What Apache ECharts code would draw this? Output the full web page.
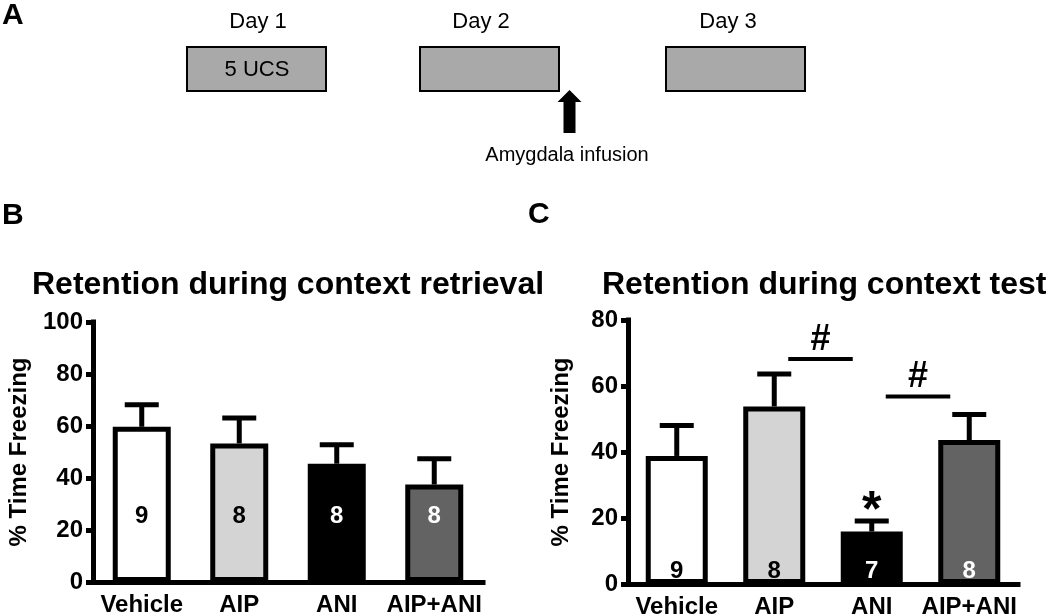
<!DOCTYPE html>
<html>
<head>
<meta charset="utf-8">
<script src="https://cdn.jsdelivr.net/npm/echarts@6/dist/echarts.min.js"></script>
<style>html,body{margin:0;padding:0;background:#fff;}#main{width:1050px;height:614px;}</style>
</head>
<body>
<div id="main"></div>
<script>
// ---- data ----
const categories = ['Vehicle', 'AIP', 'ANI', 'AIP+ANI'];
const barColors = ['#ffffff', '#d4d4d4', '#000000', '#636363'];
const nLabelColors = ['#000000', '#000000', '#ffffff', '#ffffff'];

const retrievalMean = [59.7, 53.3, 45.5, 37.5];
const retrievalSem = [8.5, 9.8, 7.3, 9.9];
const retrievalN = [9, 8, 8, 8];

const testMean = [38.8, 53.8, 15.9, 43.6];
const testSem = [9.2, 9.8, 3.2, 7.8];
const testN = [9, 8, 7, 8];

const retrievalTicks = [0, 20, 40, 60, 80, 100];
const testTicks = [0, 20, 40, 60, 80];

// significance annotations (panel C)
const sigFrom = ['AIP', 'ANI'];
const sigTo = ['ANI', 'AIP+ANI'];
const sigLevel = [68.2, 56.8];
const sigText = ['#', '#'];
const starCategory = ['ANI'];
const starText = ['*'];

// panel A timeline
const dayLabels = ['Day 1', 'Day 2', 'Day 3'];
const dayBoxText = ['5 UCS', '', ''];
const infusionLabel = 'Amygdala infusion';
const panelLetters = ['A', 'B', 'C'];
const titles = ['Retention during context retrieval', 'Retention during context test'];
const yName = '% Time Freezing';

const FONT = '"Liberation Sans", Arial, Helvetica, sans-serif';

const chart = echarts.init(document.getElementById('main'), null, {renderer: 'canvas'});

function barData(means) {
  return means.map((v, i) => ({
    value: v,
    itemStyle: {color: barColors[i]},
    label: {color: nLabelColors[i]}
  }));
}
function errData(means, sems) {
  return means.map((v, i) => [i, v, sems[i]]);
}
function errRender(params, api) {
  const x = api.value(0), m = api.value(1), e = api.value(2);
  const b = api.coord([x, m]);
  const t = api.coord([x, m + e]);
  const half = 17;
  return {
    type: 'group',
    children: [
      {type: 'line', shape: {x1: b[0], y1: b[1], x2: t[0], y2: t[1]}, style: {stroke: '#000', lineWidth: 5}},
      {type: 'line', shape: {x1: t[0] - half, y1: t[1], x2: t[0] + half, y2: t[1]}, style: {stroke: '#000', lineWidth: 5}}
    ]
  };
}
function sigRender(params, api) {
  const a = api.coord([api.value(0), api.value(2)]);
  const b = api.coord([api.value(1), api.value(2)]);
  const x1 = a[0] + 14, x2 = b[0] - 19;
  return {
    type: 'group',
    children: [
      {type: 'line', shape: {x1: x1, y1: a[1], x2: x2, y2: a[1]}, style: {stroke: '#000', lineWidth: 4}},
      {type: 'text', x: (x1 + x2) / 2, y: a[1] - 1,
        style: {text: sigText[params.dataIndex], fill: '#000', font: 'bold 36px ' + FONT, align: 'center', verticalAlign: 'bottom'}}
    ]
  };
}
function starRender(params, api) {
  const idx = api.value(0);
  const top = api.coord([idx, testMean[idx] + testSem[idx]]);
  return {
    type: 'text', x: top[0], y: top[1] + 16,
    style: {text: starText[params.dataIndex], fill: '#000', font: 'bold 50px ' + FONT, align: 'center', verticalAlign: 'bottom'}
  };
}

function xAxisCfg(gridIndex) {
  return {
    type: 'category', gridIndex: gridIndex, data: categories,
    axisLine: {lineStyle: {color: '#000', width: 5, cap: 'square'}},
    axisTick: {alignWithLabel: true, length: 7, lineStyle: {color: '#000', width: 5}},
    axisLabel: {interval: 0, color: '#000', fontWeight: 'bold', fontSize: 24, fontFamily: FONT, margin: 11}
  };
}
function yAxisCfg(gridIndex, max, nameGap) {
  return {
    type: 'value', gridIndex: gridIndex, min: 0, max: max, interval: 20,
    name: yName, nameLocation: 'middle', nameGap: nameGap,
    nameTextStyle: {color: '#000', fontWeight: 'bold', fontSize: 24, fontFamily: FONT},
    axisLine: {show: true, lineStyle: {color: '#000', width: 5, cap: 'square'}},
    axisTick: {show: true, length: 7, lineStyle: {color: '#000', width: 5}},
    axisLabel: {color: '#000', fontWeight: 'bold', fontSize: 24, fontFamily: FONT, margin: 10},
    splitLine: {show: false}
  };
}

const graphics = [];
// panel letters
[[2, 16], [2, 216], [528, 215]].forEach((p, i) => {
  graphics.push({type: 'text', x: p[0], y: p[1],
    style: {text: panelLetters[i], fill: '#000', font: 'bold 30px ' + FONT, align: 'left', verticalAlign: 'middle'}});
});
// panel A boxes
const boxX = [187, 420, 666];
const dayX = [258, 481, 728];
dayLabels.forEach((d, i) => {
  graphics.push({type: 'text', x: dayX[i], y: 22,
    style: {text: d, fill: '#000', font: '22px ' + FONT, align: 'center', verticalAlign: 'middle'}});
  graphics.push({type: 'rect', shape: {x: boxX[i], y: 47, width: 139, height: 44},
    style: {fill: '#a9a9a9', stroke: '#000', lineWidth: 2}});
  if (dayBoxText[i]) {
    graphics.push({type: 'text', x: boxX[i] + 70, y: 70,
      style: {text: dayBoxText[i], fill: '#000', font: '22px ' + FONT, align: 'center', verticalAlign: 'middle'}});
  }
});
graphics.push({type: 'polygon', shape: {points: [[569.5, 90], [581.5, 102], [575.5, 102], [575.5, 133], [563.5, 133], [563.5, 102], [557.5, 102]]},
  style: {fill: '#000'}});
graphics.push({type: 'text', x: 567, y: 155,
  style: {text: infusionLabel, fill: '#000', font: '20px ' + FONT, align: 'center', verticalAlign: 'middle'}});

const option = {
  backgroundColor: '#fff',
  animation: false,
  title: [
    {text: titles[0], left: 32, top: 269, padding: 0, textStyle: {color: '#000', fontWeight: 'bold', fontSize: 32, fontFamily: FONT}},
    {text: titles[1], left: 602, top: 269, padding: 0, textStyle: {color: '#000', fontWeight: 'bold', fontSize: 32, fontFamily: FONT}}
  ],
  grid: [
    {left: 93, top: 322, width: 390, height: 260, containLabel: false, outerBoundsMode: 'none'},
    {left: 628, top: 320, width: 390, height: 264, containLabel: false, outerBoundsMode: 'none'}
  ],
  xAxis: [xAxisCfg(0), xAxisCfg(1)],
  yAxis: [yAxisCfg(0, 100, 62), yAxisCfg(1, 80, 55)],
  graphic: graphics,
  series: [
    {type: 'custom', xAxisIndex: 0, yAxisIndex: 0, renderItem: errRender, data: errData(retrievalMean, retrievalSem), z: 1, silent: true},
    {type: 'bar', xAxisIndex: 0, yAxisIndex: 0, barWidth: 58, data: barData(retrievalMean), z: 2,
      itemStyle: {borderColor: '#000', borderWidth: 5},
      label: {show: true, position: 'insideBottom', distance: 54, fontWeight: 'bold', fontSize: 24, fontFamily: FONT,
        formatter: p => String(retrievalN[p.dataIndex])}},
    {type: 'custom', xAxisIndex: 1, yAxisIndex: 1, renderItem: errRender, data: errData(testMean, testSem), z: 1, silent: true},
    {type: 'bar', xAxisIndex: 1, yAxisIndex: 1, barWidth: 62, data: barData(testMean), z: 2,
      itemStyle: {borderColor: '#000', borderWidth: 5},
      label: {show: true, position: 'insideBottom', distance: 1, fontWeight: 'bold', fontSize: 24, fontFamily: FONT,
        formatter: p => String(testN[p.dataIndex])}},
    {type: 'custom', xAxisIndex: 1, yAxisIndex: 1, renderItem: sigRender, z: 3, silent: true,
      data: sigFrom.map((f, i) => [categories.indexOf(f), categories.indexOf(sigTo[i]), sigLevel[i]])},
    {type: 'custom', xAxisIndex: 1, yAxisIndex: 1, renderItem: starRender, z: 3, silent: true,
      data: starCategory.map(c => [categories.indexOf(c)])}
  ]
};
chart.setOption(option);
</script>
</body>
</html>
